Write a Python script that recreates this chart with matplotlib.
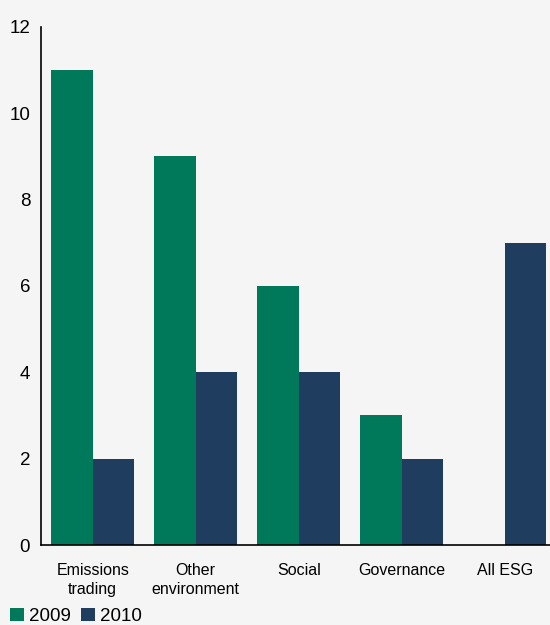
import matplotlib.pyplot as plt
import numpy as np

categories = ["Emissions\ntrading", "Other\nenvironment", "Social", "Governance", "All ESG"]
y2009 = [11, 9, 6, 3, 0]
y2010 = [2, 4, 4, 2, 7]

green = "#00785a"
navy = "#1f3d5e"
bg = "#f5f5f5"

plt.rcParams['font.family'] = ['Liberation Sans', 'DejaVu Sans']

fig = plt.figure(figsize=(5.5, 6.25), dpi=100, facecolor=bg)
ax = fig.add_axes([0.075, 0.128, 0.925, 0.829], facecolor=bg)

x = np.arange(len(categories))
w = 0.405
ax.bar(x - w / 2, y2009, width=w, color=green, label="2009")
ax.bar(x + w / 2, y2010, width=w, color=navy, label="2010")

ax.set_xlim(-0.5, 4.44)
ax.set_ylim(0, 12)
ax.set_yticks([0, 2, 4, 6, 8, 10, 12])
ax.set_xticks(x)
ax.set_xticklabels(categories, fontsize=11.5, linespacing=1.35)
ax.tick_params(axis='y', length=0, pad=8, labelsize=13.5)
ax.tick_params(axis='x', length=0, pad=13)
for s in ["top", "right"]:
    ax.spines[s].set_visible(False)
ax.spines["left"].set_linewidth(1.2)
ax.spines["bottom"].set_linewidth(1.2)

fig.legend(loc="lower left", bbox_to_anchor=(0.005, -0.012), ncol=2, frameon=False,
           fontsize=13.5, handlelength=0.75, handleheight=0.75, handletextpad=0.25,
           columnspacing=0.55, borderaxespad=0)

plt.savefig("out.png", dpi=100, facecolor=bg)
